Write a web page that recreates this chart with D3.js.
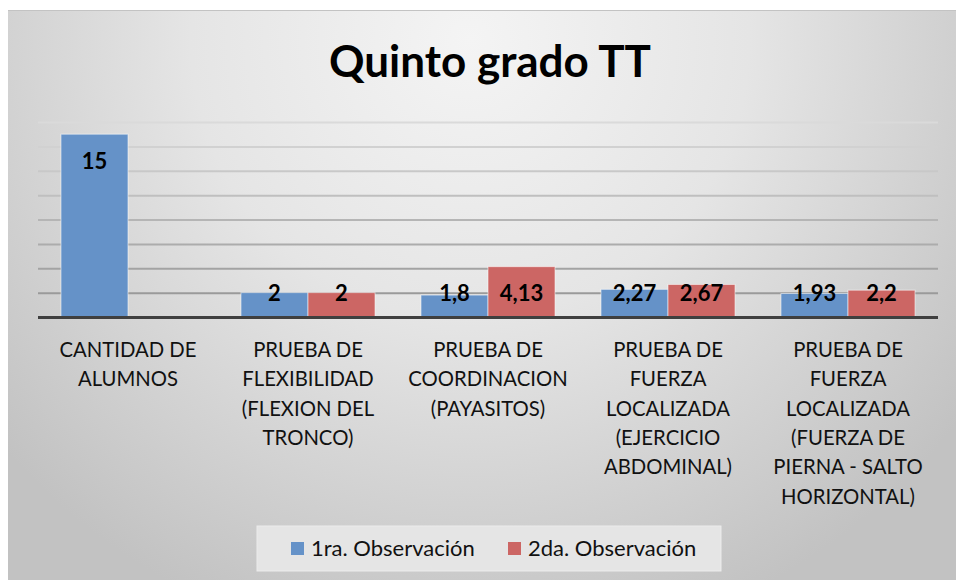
<!DOCTYPE html>
<html>
<head>
<meta charset="utf-8">
<script src="https://cdn.jsdelivr.net/npm/d3@7"></script>
<style>
  body { margin: 0; background: #fff; }
  text { font-family: Lato, "Open Sans", sans-serif; }
</style>
</head>
<body>
<script>
var categories = [
  "CANTIDAD DE ALUMNOS",
  "PRUEBA DE FLEXIBILIDAD (FLEXION DEL TRONCO)",
  "PRUEBA DE COORDINACION (PAYASITOS)",
  "PRUEBA DE FUERZA LOCALIZADA (EJERCICIO ABDOMINAL)",
  "PRUEBA DE FUERZA LOCALIZADA (FUERZA DE PIERNA - SALTO HORIZONTAL)"
];
var seriesNames = ["1ra. Observación", "2da. Observación"];
var obs1 = [15, 2, 1.8, 2.27, 1.93];
var obs2 = [null, 2, 4.13, 2.67, 2.2];
var yTicks = [0, 2, 4, 6, 8, 10, 12, 14, 16];
var colors = ["#6592c8", "#cc6664"];

var W = 956, H = 580;
var svg = d3.select("body").append("svg")
    .attr("width", W)
    .attr("height", H);

// background gradient
var defs = svg.append("defs");
var grad = defs.append("radialGradient")
    .attr("id", "bg")
    .attr("gradientUnits", "userSpaceOnUse")
    .attr("cx", 470).attr("cy", 40).attr("r", 620);
grad.append("stop").attr("offset", "0%").attr("stop-color", "#f4f4f4");
grad.append("stop").attr("offset", "45%").attr("stop-color", "#e5e5e5");
grad.append("stop").attr("offset", "100%").attr("stop-color", "#c2c2c2");

svg.append("rect")
    .attr("x", 8).attr("y", 10)
    .attr("width", W - 8).attr("height", H - 10)
    .attr("fill", "url(#bg)");
svg.append("line")
    .attr("x1", 8).attr("x2", W)
    .attr("y1", 10.5).attr("y2", 10.5)
    .attr("stroke", "#c3c3c3").attr("stroke-width", 1);

var x = d3.scaleBand()
    .domain(categories)
    .range([38, 938]);
var xs = d3.scaleBand()
    .domain(seriesNames)
    .range([0, x.bandwidth()])
    .paddingOuter(0.343);
var y = d3.scaleLinear()
    .domain([0, 16])
    .range([317, 122]);

// gridlines
var gridColor = d3.scaleLinear().domain([16, 2]).range(["#dadada", "#9a9a9a"]);
var grid = svg.append("g")
    .attr("transform", "translate(38,0)")
    .call(d3.axisLeft(y).tickValues(yTicks).tickSize(-900).tickFormat(""));
grid.select(".domain").remove();
grid.selectAll(".tick line")
    .attr("stroke", function(d) { return gridColor(d); })
    .attr("stroke-width", 2);

// bars
var rows = categories.map(function(c, i) {
  return { cat: c, vals: [obs1[i], obs2[i]] };
});
var groups = svg.selectAll(".grp")
    .data(rows)
    .enter().append("g")
    .attr("transform", function(d) { return "translate(" + x(d.cat) + ",0)"; });

groups.selectAll("rect")
    .data(function(d) {
      return d.vals.map(function(v, j) { return { s: seriesNames[j], v: v, j: j }; })
        .filter(function(e) { return e.v !== null; });
    })
    .enter().append("rect")
    .attr("x", function(d) { return xs(d.s); })
    .attr("y", function(d) { return y(d.v); })
    .attr("width", xs.bandwidth())
    .attr("height", function(d) { return y(0) - y(d.v); })
    .attr("fill", function(d) { return colors[d.j]; })
    .attr("stroke", "rgba(255,255,255,0.55)")
    .attr("stroke-width", 1);

// axis line
svg.append("line")
    .attr("x1", 38).attr("x2", 938)
    .attr("y1", y(0) + 0.5).attr("y2", y(0) + 0.5)
    .attr("stroke", "#3f3f3f").attr("stroke-width", 3);

// data labels
var fmt = function(v) { return String(v).replace(".", ","); };
groups.selectAll(".lbl")
    .data(function(d) {
      return d.vals.map(function(v, j) { return { s: seriesNames[j], v: v }; })
        .filter(function(e) { return e.v !== null; });
    })
    .enter().append("text")
    .attr("x", function(d) { return xs(d.s) + xs.bandwidth() / 2; })
    .attr("y", function(d) { return Math.min(y(d.v) + 35, 301); })
    .attr("text-anchor", "middle")
    .attr("font-weight", "bold")
    .attr("font-size", 22)
    .attr("fill", "#000")
    .text(function(d) { return fmt(d.v); });

// category labels
var xAxis = svg.append("g")
    .attr("transform", "translate(0," + y(0) + ")")
    .call(d3.axisBottom(x).tickSize(0).tickFormat(""));
xAxis.select(".domain").remove();

function wrapLines(str, maxW, size) {
  var tmp = svg.append("text").attr("font-size", size);
  var words = str.split(" "), lines = [], line = [];
  words.forEach(function(w) {
    line.push(w);
    tmp.text(line.join(" "));
    if (tmp.node().getComputedTextLength() > maxW && line.length > 1) {
      line.pop();
      lines.push(line.join(" "));
      line = [w];
    }
  });
  lines.push(line.join(" "));
  tmp.remove();
  return lines;
}

xAxis.selectAll(".tick").each(function(d) {
  var t = d3.select(this).append("text")
      .attr("text-anchor", "middle")
      .attr("font-size", 20.3)
      .attr("fill", "#111");
  wrapLines(d, 165, 20.3).forEach(function(l, i) {
    t.append("tspan")
      .attr("x", 0)
      .attr("y", 40 + i * 29.3)
      .text(l);
  });
});

// title
svg.append("text")
    .attr("x", 490).attr("y", 77)
    .attr("text-anchor", "middle")
    .attr("font-weight", "bold")
    .attr("font-size", 44)
    .attr("fill", "#000")
    .text("Quinto grado TT");

// legend
var leg = svg.append("g");
leg.append("rect")
    .attr("x", 257).attr("y", 526)
    .attr("width", 464).attr("height", 45)
    .attr("fill", "#e5e5e5")
    .attr("stroke", "#ececec");
var legX = [291, 508];
seriesNames.forEach(function(s, i) {
  leg.append("rect")
    .attr("x", legX[i]).attr("y", 542)
    .attr("width", 13).attr("height", 13)
    .attr("fill", colors[i]);
  leg.append("text")
    .attr("x", legX[i] + 20).attr("y", 556)
    .attr("font-size", 22)
    .attr("fill", "#111")
    .text(s);
});
</script>
</body>
</html>
